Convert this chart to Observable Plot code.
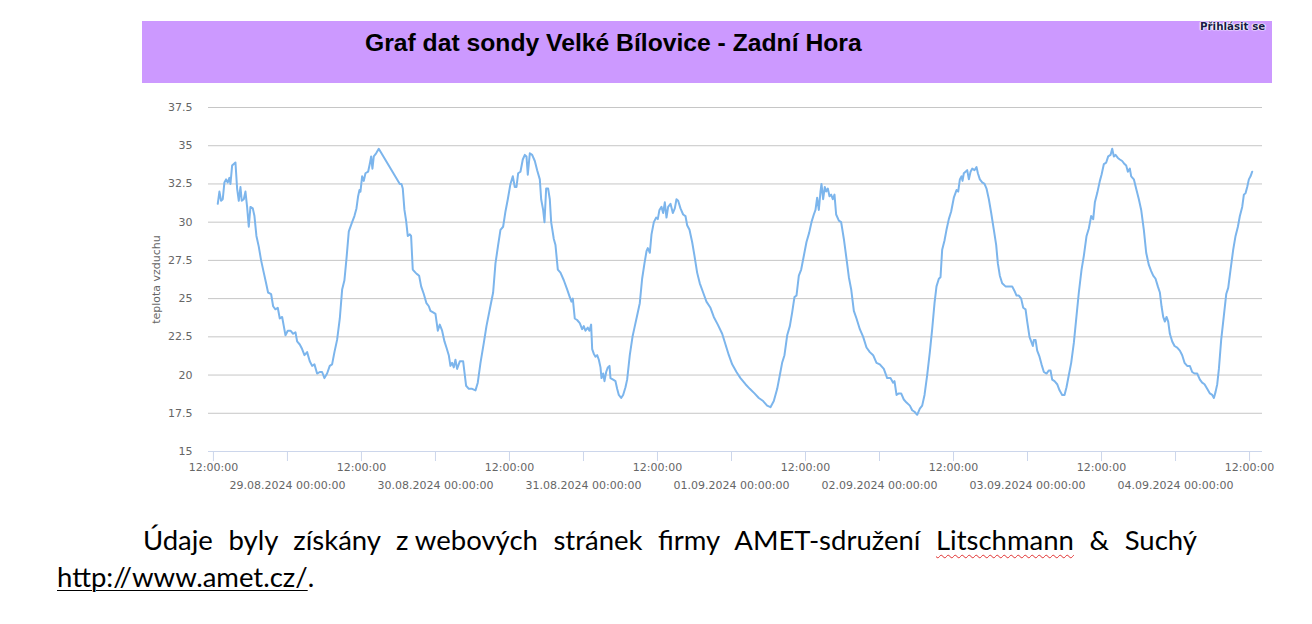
<!DOCTYPE html>
<html>
<head>
<meta charset="utf-8">
<script src="https://cdn.jsdelivr.net/npm/d3@7"></script>
<script src="https://cdn.jsdelivr.net/npm/@observablehq/plot@0.6"></script>
<style>
  html, body { margin: 0; padding: 0; background: #fff; }
  body { width: 1312px; height: 624px; position: relative; overflow: hidden; }
  #banner { position: absolute; left: 142px; top: 21px; width: 1130px; height: 62px; background: #cc99ff; }
  #title { position: absolute; left: 365px; top: 31px; font: bold 24.7px "Liberation Sans", Arial, sans-serif; line-height: 1; color: #000; white-space: nowrap; }
  #login { position: absolute; left: 1200px; top: 21px; font: bold 10.3px "DejaVu Sans", sans-serif; line-height: 1; color: #1a1a4a; white-space: nowrap;
           text-shadow: 0 0 1px #fff, 0 0 2px #fff, 1px 0 1px #fff, -1px 0 1px #fff; }
  #chart { position: absolute; left: 0; top: 95px; }
  .cap { position: absolute; font-family: Lato, "Open Sans", sans-serif; font-size: 27.5px; line-height: 1; color: #000; white-space: nowrap; }
  #cap1 { left: 143px; top: 526px; width: 1054px; text-align: justify; text-align-last: justify; white-space: normal; }
  #cap2 { left: 57px; top: 563px; }
  .nb { display: inline-block; white-space: nowrap; }
  .spell { text-decoration: underline wavy #e03030; text-decoration-thickness: 1px; text-underline-offset: 4px; }
  .link { text-decoration: underline; text-underline-offset: 3px; text-decoration-thickness: 1px; }
</style>
</head>
<body>
<div id="banner"></div>
<div id="title">Graf dat sondy Velké Bílovice - Zadní Hora</div>
<div id="login">Přihlásit se</div>
<div id="chart"></div>
<div class="cap" id="cap1">Údaje byly získány <span class="nb">z webových</span> stránek firmy AMET-sdružení <span class="spell">Litschmann</span> &amp; Suchý</div>
<div class="cap" id="cap2"><span class="link">http://www.amet.cz/</span>.</div>
<script>
// Hours after 28.08.2024 12:00 and air temperature (°C)
const hours = [
  0.70, 0.97, 1.24, 1.51, 1.78, 2.05, 2.32, 2.59, 2.76, 3.03,
  3.30, 3.57, 3.84, 4.11, 4.38, 4.59, 4.92, 5.19, 5.46, 5.73,
  6.00, 6.38, 6.65, 6.97, 7.35, 7.73, 8.16, 8.54, 8.86, 9.35,
  9.68, 10.05, 10.43, 10.76, 11.14, 11.41, 11.68, 12.05, 12.49, 12.92,
  13.30, 13.57, 14.00, 14.38, 14.76, 15.19, 15.62, 16.00, 16.38, 16.81,
  17.24, 17.62, 18.00, 18.43, 18.86, 19.24, 19.62, 20.05, 20.49, 20.87,
  21.24, 21.57, 21.95, 22.49, 22.86, 23.19, 23.46, 23.68, 23.84, 24.11,
  24.38, 24.65, 25.08, 25.35, 25.57, 25.78, 26.00, 26.38, 26.81, 30.22,
  30.49, 30.70, 30.97, 31.24, 31.51, 31.84, 32.05, 32.32, 32.76, 33.03,
  33.35, 33.68, 34.11, 34.54, 34.92, 35.19, 35.62, 36.00, 36.38, 36.70,
  37.08, 37.46, 37.78, 38.16, 38.43, 38.70, 38.97, 39.24, 39.51, 39.95,
  40.49, 40.76, 40.97, 41.41, 41.95, 42.49, 42.86, 43.30, 43.84, 44.27,
  44.81, 45.35, 45.73, 46.16, 46.54, 46.97, 47.35, 47.73, 48.16, 48.54,
  48.86, 49.14, 49.41, 49.78, 50.16, 50.49, 50.76, 50.97, 51.30, 51.68,
  52.11, 52.49, 52.92, 53.14, 53.46, 53.68, 53.95, 54.27, 54.54, 54.76,
  55.19, 55.46, 55.84, 56.27, 56.81, 57.35, 57.78, 58.05, 58.27, 58.59,
  58.97, 59.40, 59.78, 60.05, 60.32, 60.70, 60.97, 61.24, 61.41, 61.67,
  61.95, 62.22, 62.49, 62.76, 62.92, 63.19, 63.41, 63.68, 63.95, 64.22,
  64.38, 64.81, 65.19, 65.46, 65.73, 66.11, 66.43, 66.81, 67.08, 67.51,
  67.95, 68.27, 68.70, 69.13, 69.51, 69.89, 70.22, 70.43, 70.76, 71.03,
  71.41, 71.78, 72.05, 72.32, 72.65, 72.92, 73.19, 73.46, 73.73, 74.11,
  74.49, 74.81, 75.08, 75.35, 75.73, 76.16, 76.54, 76.81, 77.19, 77.62,
  78.00, 78.43, 78.86, 79.40, 79.94, 80.59, 81.13, 81.78, 82.49, 83.03,
  83.57, 84.11, 84.81, 85.46, 86.27, 86.97, 87.73, 88.43, 89.13, 89.78,
  90.32, 90.86, 91.41, 91.84, 92.21, 92.59, 93.03, 93.46, 93.84, 94.21,
  94.54, 94.92, 95.30, 95.73, 96.16, 96.59, 96.97, 97.35, 97.62, 97.89,
  98.16, 98.43, 98.59, 98.86, 99.13, 99.35, 99.62, 99.89, 100.16, 100.43,
  100.70, 100.97, 101.41, 101.78, 102.22, 102.65, 103.03, 103.41, 103.84, 104.27,
  104.81, 105.35, 105.89, 106.43, 106.97, 107.51, 108.05, 108.70, 109.24, 109.78,
  110.21, 110.43, 110.76, 111.13, 111.51, 111.94, 112.38, 112.92, 113.30, 113.67,
  114.11, 114.54, 114.92, 115.30, 115.73, 116.16, 116.54, 116.92, 117.24, 117.62,
  117.89, 118.16, 118.54, 118.86, 119.24, 119.62, 120.05, 120.49, 120.76, 121.03,
  121.30, 121.46, 121.67, 121.95, 122.22, 122.49, 122.76, 123.03, 123.40, 123.73,
  123.95, 124.27, 124.65, 125.03, 125.35, 125.73, 126.11, 126.54, 126.92, 127.19,
  127.51, 127.89, 128.43, 128.97, 129.51, 129.89, 130.22, 130.59, 130.97, 131.30,
  131.68, 131.95, 132.32, 132.59, 132.86, 133.03, 133.30, 133.57, 133.94, 134.27,
  134.65, 135.08, 135.46, 135.73, 136.00, 136.38, 136.81, 137.19, 137.62, 138.00,
  138.32, 138.70, 139.08, 139.51, 139.95, 140.32, 140.76, 141.13, 141.57, 141.95,
  142.32, 142.65, 142.92, 143.30, 143.73, 144.00, 144.38, 144.76, 145.08, 145.46,
  145.73, 146.00, 146.27, 146.65, 146.97, 147.35, 147.73, 148.00, 148.27, 148.59,
  148.81, 149.24, 149.67, 150.05, 150.43, 150.86, 151.24, 151.67, 152.05, 152.38,
  152.76, 153.13, 153.46, 153.73, 154.00, 154.27, 154.54, 154.81, 155.08, 155.46,
  155.84, 156.27, 156.70, 157.08, 157.46, 157.89, 158.32, 158.70, 159.08, 159.51,
  159.95, 160.32, 160.70, 161.13, 161.57, 161.95, 162.22, 162.49, 162.76, 163.03,
  163.40, 163.84, 164.22, 164.54, 164.92, 165.35, 165.73, 166.11, 166.43, 166.81,
  167.08, 167.35, 167.62, 167.89, 168.16, 168.43
];
const temps = [
  31.2, 32.0, 31.4, 31.5, 32.6, 32.8, 32.6, 32.9, 32.5, 33.7,
  33.8, 33.9, 32.2, 31.4, 32.3, 31.4, 31.5, 32.0, 31.0, 29.7,
  31.0, 30.9, 30.4, 29.1, 28.4, 27.5, 26.7, 26.0, 25.4, 25.3,
  24.5, 24.3, 24.4, 23.7, 23.8, 23.2, 22.6, 22.9, 22.9, 22.7,
  22.8, 22.2, 22.0, 21.7, 21.3, 21.5, 20.9, 20.6, 20.7, 20.1,
  20.2, 20.2, 19.8, 20.1, 20.6, 20.7, 21.5, 22.3, 23.7, 25.6,
  26.2, 27.6, 29.4, 30.0, 30.4, 30.9, 31.7, 32.1, 32.0, 33.0,
  32.7, 33.2, 33.3, 33.8, 34.3, 33.5, 34.3, 34.5, 34.8, 32.5,
  32.5, 32.2, 30.8, 30.1, 29.1, 29.2, 29.1, 26.9, 26.7, 26.6,
  26.5, 25.8, 25.3, 24.7, 24.5, 24.2, 24.1, 24.0, 22.9, 23.3,
  22.9, 22.2, 21.8, 21.3, 20.6, 20.8, 20.5, 21.0, 20.4, 20.9,
  20.9, 20.0, 19.3, 19.1, 19.1, 19.0, 19.5, 20.8, 22.1, 23.2,
  24.3, 25.4, 27.3, 28.5, 29.5, 29.7, 30.7, 31.5, 32.5, 33.0,
  32.3, 32.3, 33.2, 33.3, 34.1, 34.4, 34.3, 33.1, 34.5, 34.4,
  34.0, 33.4, 32.8, 31.5, 30.8, 30.0, 32.2, 32.2, 31.5, 30.0,
  28.9, 28.5, 26.9, 26.7, 26.2, 25.6, 25.1, 24.8, 25.0, 23.7,
  23.6, 23.4, 23.0, 23.2, 22.9, 23.1, 22.9, 23.3, 21.7, 21.4,
  21.2, 21.3, 21.0, 20.5, 19.8, 20.1, 19.6, 20.2, 20.5, 20.6,
  19.8, 19.7, 19.6, 19.1, 18.7, 18.5, 18.7, 19.2, 19.7, 21.3,
  22.5, 23.1, 23.9, 24.7, 26.3, 27.3, 28.1, 28.3, 28.0, 29.2,
  30.0, 30.3, 30.2, 30.8, 31.0, 30.6, 31.3, 30.3, 31.0, 31.2,
  30.6, 30.9, 31.5, 31.4, 30.9, 30.5, 30.4, 29.8, 29.5, 28.7,
  27.8, 26.7, 26.0, 25.4, 24.8, 24.4, 23.8, 23.3, 22.7, 22.0,
  21.3, 20.7, 20.2, 19.8, 19.4, 19.1, 18.8, 18.5, 18.3, 18.0,
  17.9, 18.3, 19.1, 20.0, 20.8, 21.3, 22.6, 23.2, 24.1, 25.1,
  25.2, 26.5, 26.9, 27.8, 28.7, 29.3, 30.0, 30.5, 30.8, 31.6,
  30.8, 32.0, 32.5, 31.5, 32.3, 32.0, 32.2, 31.7, 31.8, 31.5,
  31.8, 30.5, 30.1, 30.0, 28.9, 27.6, 26.4, 25.6, 24.2, 23.7,
  23.0, 22.5, 21.8, 21.5, 21.3, 20.8, 20.7, 20.4, 19.8, 19.8,
  19.5, 19.6, 18.7, 18.8, 18.8, 18.4, 18.2, 18.0, 17.7, 17.6,
  17.4, 17.8, 18.0, 18.7, 20.0, 21.5, 23.0, 24.7, 25.8, 26.3,
  26.4, 28.2, 28.8, 29.5, 30.2, 30.7, 31.6, 32.1, 32.0, 32.8,
  33.0, 32.7, 33.2, 33.3, 33.4, 32.8, 33.3, 33.5, 33.4, 33.6,
  33.2, 32.8, 32.6, 32.5, 32.2, 31.5, 30.6, 29.5, 28.5, 27.3,
  26.5, 26.0, 25.8, 25.8, 25.8, 25.5, 25.2, 25.2, 25.0, 24.4,
  24.3, 23.5, 22.5, 22.2, 21.9, 22.3, 22.3, 21.6, 21.2, 20.7,
  20.2, 20.1, 20.3, 20.3, 19.7, 19.6, 19.4, 19.0, 18.7, 18.7,
  19.2, 20.0, 20.8, 22.1, 23.9, 25.4, 26.9, 27.8, 29.1, 29.6,
  30.4, 30.2, 31.3, 31.9, 32.7, 33.1, 33.8, 33.9, 34.3, 34.4,
  34.8, 34.3, 34.4, 34.2, 34.1, 34.0, 33.8, 33.7, 33.3, 33.5,
  33.0, 32.8, 32.1, 31.5, 30.8, 29.5, 28.0, 27.2, 26.8, 26.5,
  26.3, 25.8, 25.4, 24.5, 23.8, 23.5, 23.8, 23.5, 22.7, 22.2,
  21.9, 21.8, 21.6, 21.3, 20.8, 20.6, 20.6, 20.2, 20.1, 20.1,
  19.7, 19.5, 19.4, 19.1, 18.8, 18.7, 18.5, 18.9, 19.4, 20.4,
  22.3, 23.9, 25.3, 25.7, 26.9, 28.2, 29.1, 29.7, 30.4, 31.0,
  31.8, 31.9, 32.3, 32.8, 33.0, 33.3
];
const startTime = "2024-08-28T12:00:00Z";
const yTicks = [15, 17.5, 20, 22.5, 25, 27.5, 30, 32.5, 35, 37.5];
const noonTicks = ["2024-08-28T12:00:00Z", "2024-08-29T12:00:00Z", "2024-08-30T12:00:00Z", "2024-08-31T12:00:00Z",
                   "2024-09-01T12:00:00Z", "2024-09-02T12:00:00Z", "2024-09-03T12:00:00Z", "2024-09-04T12:00:00Z"];
const noonLabel = "12:00:00";
const midnightTicks = ["2024-08-29T00:00:00Z", "2024-08-30T00:00:00Z", "2024-08-31T00:00:00Z", "2024-09-01T00:00:00Z",
                       "2024-09-02T00:00:00Z", "2024-09-03T00:00:00Z", "2024-09-04T00:00:00Z"];
const midnightLabels = ["29.08.2024 00:00:00", "30.08.2024 00:00:00", "31.08.2024 00:00:00", "01.09.2024 00:00:00",
                        "02.09.2024 00:00:00", "03.09.2024 00:00:00", "04.09.2024 00:00:00"];
const xDomainHours = [-0.8, 170.1];
const yLabel = "teplota vzduchu";

const t0 = new Date(startTime).getTime();
const H = 3600 * 1000;
const data = hours.map((h, i) => ({time: new Date(t0 + h * H), temp: temps[i]}));
const noonDates = noonTicks.map(s => new Date(s));
const midDates = midnightTicks.map(s => new Date(s));
const midMap = new Map(midDates.map((d, i) => [+d, midnightLabels[i]]));

const W = 1312, HGT = 420;
const chart = Plot.plot({
  width: W,
  height: HGT,
  marginLeft: 208,
  marginRight: 50,
  marginTop: 12,
  marginBottom: 64,
  style: {fontFamily: "DejaVu Sans, sans-serif", fontSize: "11px", color: "#666", background: "#fff", overflow: "visible"},
  x: {type: "utc", domain: xDomainHours.map(h => new Date(t0 + h * H))},
  y: {domain: [15, 37.5]},
  marks: [
    Plot.gridY(yTicks.filter(v => v > 15), {stroke: "#c6c6c6", strokeOpacity: 1}),
    Plot.axisY(yTicks, {tickSize: 0, tickPadding: 16, fill: "#666", tickFormat: d => String(d), label: yLabel, labelAnchor: "center", labelArrow: "none", labelOffset: 56}),
    Plot.ruleY([15], {stroke: "#ccd6eb"}),
    Plot.axisX(noonDates, {tickSize: 10, tickPadding: 2, stroke: "#ccd6eb", fill: "#666", tickFormat: () => noonLabel, label: null}),
    Plot.axisX(midDates, {tickSize: 10, tickPadding: 20, stroke: "#ccd6eb", fill: "#666", tickFormat: d => midMap.get(+d), label: null}),
    Plot.line(data, {x: "time", y: "temp", stroke: "#7cb5ec", strokeWidth: 2, curve: "linear"})
  ]
});
document.getElementById("chart").appendChild(chart);
</script>
</body>
</html>
